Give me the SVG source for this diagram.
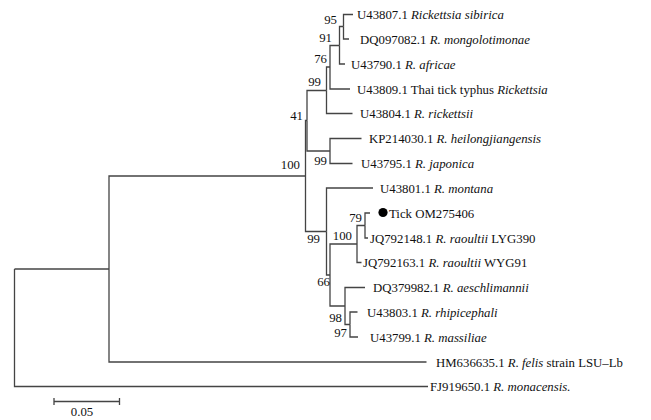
<svg xmlns="http://www.w3.org/2000/svg" width="651" height="420" viewBox="0 0 651 420">
<style>
text{font-family:"Liberation Serif","Times New Roman",serif;font-size:12.8px;fill:#111}
.it{font-style:italic}
.bs{text-anchor:end}
#edges path,.bar{fill:none;stroke:#444;stroke-width:1.3}
</style>
<rect width="651" height="420" fill="#fff"/>
<g id="edges">
<path d="M14.5,269 H109"/>
<path d="M14.5,269 V386.5 H428"/>
<path d="M109,269 V176 H305.5"/>
<path d="M109,269 V362 H426.5"/>
<path d="M305.5,176 V120.5 H307"/>
<path d="M305.5,176 V231.5 H326.5"/>
<path d="M307,120.5 V90.5 H326.5"/>
<path d="M307,120.5 V151 H330"/>
<path d="M326.5,90.5 V67 H330"/>
<path d="M326.5,90.5 V113.5 H352.5"/>
<path d="M330,67 V45.5 H339.5"/>
<path d="M330,67 V89 H350"/>
<path d="M339.5,45.5 V26.5 H343.5"/>
<path d="M339.5,45.5 V64 H345"/>
<path d="M343.5,26.5 V14.5 H353"/>
<path d="M343.5,26.5 V39 H349"/>
<path d="M330,151 V138.5 H361.5"/>
<path d="M330,151 V163.5 H352.5"/>
<path d="M326.5,231.5 V188 H373"/>
<path d="M326.5,231.5 V275 H330"/>
<path d="M330,275 V244 H357"/>
<path d="M330,275 V306 H345"/>
<path d="M357,244 V225.5 H365"/>
<path d="M357,244 V262.5 H361.5"/>
<path d="M365,225.5 V213 H370"/>
<path d="M365,225.5 V238 H368"/>
<path d="M345,306 V287.5 H365"/>
<path d="M345,306 V324.5 H350"/>
<path d="M350,324.5 V312 H357.5"/>
<path d="M350,324.5 V337 H358"/>
</g>
<g id="bootstrap">
<g id="n95"><text class="bs" x="337" y="24">95</text></g>
<g id="n91"><text class="bs" x="332" y="42">91</text></g>
<g id="n76"><text class="bs" x="327" y="63">76</text></g>
<g id="n99a"><text class="bs" x="321" y="86">99</text></g>
<g id="n41"><text class="bs" x="303" y="120">41</text></g>
<g id="n99b"><text class="bs" x="327" y="165">99</text></g>
<g id="n100a"><text class="bs" x="300" y="169">100</text></g>
<g id="n99c"><text class="bs" x="320" y="243">99</text></g>
<g id="n100b"><text class="bs" x="352" y="240">100</text></g>
<g id="n79"><text class="bs" x="362" y="222">79</text></g>
<g id="n66"><text class="bs" x="330" y="286">66</text></g>
<g id="n98"><text class="bs" x="342" y="322">98</text></g>
<g id="n97"><text class="bs" x="347" y="337">97</text></g>
</g>
<g id="leaf-sibirica"><text x="357" y="19">U43807.1 <tspan class="it">Rickettsia sibirica</tspan></text></g>
<g id="leaf-mongolotimonae"><text x="360" y="43.5">DQ097082.1 <tspan class="it">R. mongolotimonae</tspan></text></g>
<g id="leaf-africae"><text x="351" y="68.5">U43790.1 <tspan class="it">R. africae</tspan></text></g>
<g id="leaf-thai"><text x="357" y="93.5">U43809.1 Thai tick typhus <tspan class="it">Rickettsia</tspan></text></g>
<g id="leaf-rickettsii"><text x="360" y="118">U43804.1 <tspan class="it">R. rickettsii</tspan></text></g>
<g id="leaf-heilongjiangensis"><text x="369" y="143">KP214030.1 <tspan class="it">R. heilongjiangensis</tspan></text></g>
<g id="leaf-japonica"><text x="361" y="168">U43795.1 <tspan class="it">R. japonica</tspan></text></g>
<g id="leaf-montana"><text x="380" y="192.5">U43801.1 <tspan class="it">R. montana</tspan></text></g>
<g id="leaf-tick"><circle cx="383" cy="212.5" r="4.6" fill="#000"/><text x="389" y="217.5">Tick OM275406</text></g>
<g id="leaf-lyg390"><text x="370" y="242.5">JQ792148.1 <tspan class="it">R. raoultii</tspan> LYG390</text></g>
<g id="leaf-wyg91"><text x="363" y="267">JQ792163.1 <tspan class="it">R. raoultii</tspan> WYG91</text></g>
<g id="leaf-aeschlimannii"><text x="373" y="292">DQ379982.1 <tspan class="it">R. aeschlimannii</tspan></text></g>
<g id="leaf-rhipicephali"><text x="367" y="316.5">U43803.1 <tspan class="it">R. rhipicephali</tspan></text></g>
<g id="leaf-massiliae"><text x="370" y="341.5">U43799.1 <tspan class="it">R. massiliae</tspan></text></g>
<g id="leaf-felis"><text x="436" y="366.5">HM636635.1 <tspan class="it">R. felis</tspan> strain LSU–Lb</text></g>
<g id="leaf-monacensis"><text x="430" y="391">FJ919650.1 <tspan class="it">R. monacensis.</tspan></text></g>
<g id="scale">
<path class="bar" d="M54,401.5 H119.5 M54,398 V405 M119.5,398 V405"/>
<text x="82" y="415.5" text-anchor="middle">0.05</text>
</g>
</svg>
